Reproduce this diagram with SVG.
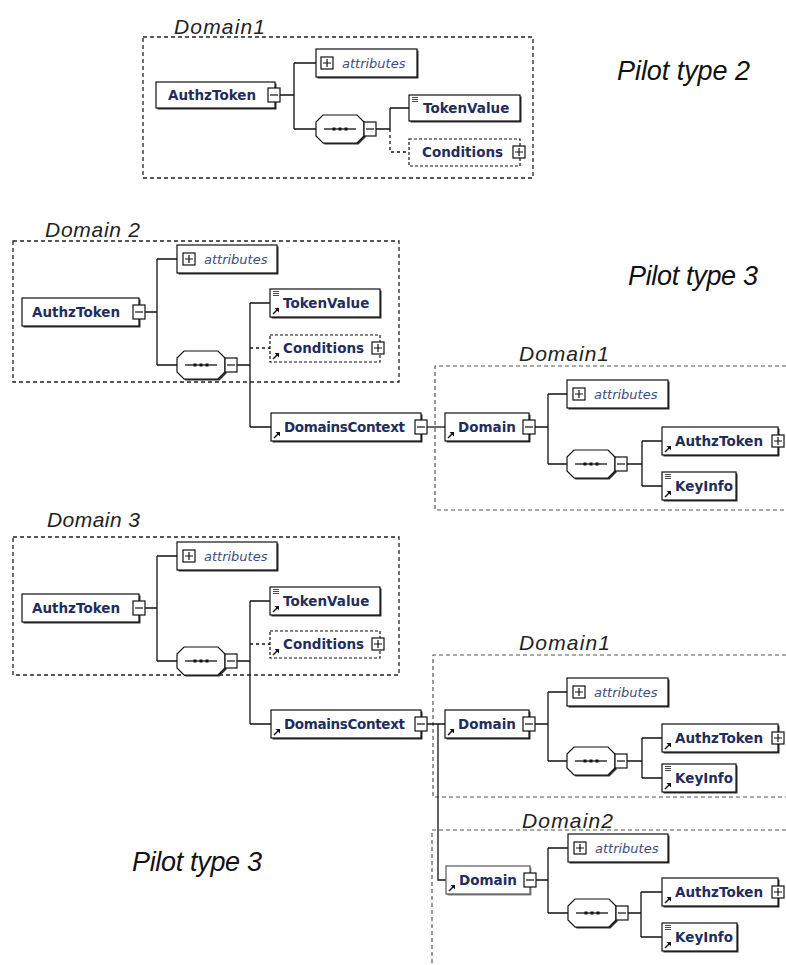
<svg xmlns="http://www.w3.org/2000/svg" width="786" height="965" viewBox="0 0 786 965">
<style>
.bg{fill:#fff}
.dom{fill:none;stroke:#222;stroke-width:1.3;stroke-dasharray:4 3}
.dom2{fill:none;stroke:#555;stroke-width:1.2;stroke-dasharray:4 3}
.nd{fill:#fff;stroke:#111;stroke-width:1.2}
.ndd{fill:#fff;stroke:#111;stroke-width:1.2;stroke-dasharray:3 2}
.sh{fill:#333}
.c{fill:none;stroke:#111;stroke-width:1.3}
.cd{fill:none;stroke:#111;stroke-width:1.3;stroke-dasharray:3 3}
.t{font-family:"DejaVu Sans",Verdana,sans-serif;font-weight:bold;font-size:13.5px;fill:#1f2d5c}
.at{font-family:"DejaVu Sans",Verdana,sans-serif;font-style:italic;font-size:13px;fill:#3b4b7a}
.dl{font-family:"Liberation Sans",Arial,sans-serif;font-style:italic;font-size:21px;fill:#222}
.pt{font-family:"Liberation Sans",Arial,sans-serif;font-style:italic;font-size:27px;fill:#111}
</style>
<defs>
<g id="mn"><rect x="-6" y="-7" width="12" height="14" fill="#fff" stroke="#111" stroke-width="1.2"/><line x1="-4" y1="0" x2="4" y2="0" stroke="#111" stroke-width="1.2"/></g>
<g id="pl"><rect x="-6" y="-6" width="12" height="12" fill="#fff" stroke="#111" stroke-width="1.2"/><path d="M-4 0H4M0 -4V4" stroke="#111" stroke-width="1.2"/></g>
<g id="ref"><path d="M0 0L4 -4" stroke="#111" stroke-width="1.4"/><path d="M1.5 -6H6V-1.5Z" fill="#111"/></g>
<g id="eq"><path d="M0 0.5H6M0 2.5H6M0 4.5H6" stroke="#333" stroke-width="0.9"/></g>
<g id="seq">
<path d="M8.5 -12.5H42.5L49.5 -5.5V8.5L42.5 15.5H8.5L1.5 8.5V-5.5Z" fill="#333"/>
<path d="M7 -14H41L48 -7V7L41 14H7L0 7V-7Z" fill="#fff" stroke="#111" stroke-width="1.2"/>
<line x1="8" y1="0" x2="40" y2="0" stroke="#111" stroke-width="1.3"/>
<rect x="16.5" y="-1.5" width="3" height="3" fill="#111"/><rect x="22.5" y="-1.5" width="3" height="3" fill="#111"/><rect x="28.5" y="-1.5" width="3" height="3" fill="#111"/>
</g>
</defs>
<rect class="bg" x="0" y="0" width="786" height="965"/>

<g id="domains">
<rect class="dom" x="143" y="37" width="390" height="141"/>
<rect class="dom" x="13" y="241" width="386" height="141"/>
<path class="dom2" d="M786 366H435V510H786"/>
<rect class="dom" x="13" y="537" width="386" height="138"/>
<path class="dom2" d="M786 655H433V797H786"/>
<path class="dom2" d="M786 830H432V965"/>
</g>

<g id="labels">
<text class="dl" x="174" y="34" textLength="91">Domain1</text>
<text class="pt" x="617" y="80" textLength="133">Pilot type 2</text>
<text class="dl" x="45" y="237" textLength="95">Domain 2</text>
<text class="pt" x="628" y="285" textLength="130">Pilot type 3</text>
<text class="dl" x="519" y="361" textLength="90">Domain1</text>
<text class="dl" x="47" y="527" textLength="93">Domain 3</text>
<text class="dl" x="519" y="650" textLength="91">Domain1</text>
<text class="dl" x="522" y="828" textLength="91">Domain2</text>
<text class="pt" x="132" y="871" textLength="130">Pilot type 3</text>
</g>

<g id="connectors">
<path class="c" d="M280 95H294M294 63V129M294 63H316M294 129H316"/>
<path class="c" d="M376 129H390M390 108V129M390 108H409"/>
<path class="cd" d="M390 129V152H409"/>

<path class="c" d="M145 312H157M157 259V365M157 259H177M157 365H177"/>
<path class="c" d="M237 365H250M250 303V427M250 303H270M250 427H271"/>
<path class="cd" d="M250 348H270"/>
<path class="c" d="M427 427H445"/>
<path class="c" d="M535 427H548M548 394V464M548 394H567M548 464H567"/>
<path class="c" d="M627 464H642M642 441V486M642 441H662M642 486H662"/>

<path class="c" d="M145 608H157M157 556V661M157 556H177M157 661H177"/>
<path class="c" d="M237 661H250M250 601V724M250 601H270M250 724H271"/>
<path class="cd" d="M250 644H270"/>
<path class="c" d="M427 724H445M438 724V880H446"/>
<path class="c" d="M535 724H548M548 692V761M548 692H567M548 761H567"/>
<path class="c" d="M627 761H642M642 738V778M642 738H662M642 778H662"/>
<path class="c" d="M536 880H548M548 848V913M548 848H568M548 913H568"/>
<path class="c" d="M628 913H641M641 892V937M641 892H662M641 937H662"/>
</g>

<!-- Section 1 -->
<g id="s1-authztoken"><rect class="sh" x="157.5" y="83.5" width="119" height="26"/><rect class="nd" x="156" y="82" width="119" height="26"/><text class="t" x="168" y="100">AuthzToken</text><use href="#mn" x="274" y="95"/></g>
<g id="s1-attributes"><rect class="sh" x="317.5" y="50.5" width="101" height="28"/><rect class="nd" x="316" y="49" width="101" height="28"/><use href="#pl" x="327" y="63"/><text class="at" x="342" y="68">attributes</text></g>
<g id="s1-sequence"><use href="#seq" x="316" y="129"/><use href="#mn" x="370" y="129"/></g>
<g id="s1-tokenvalue"><rect class="sh" x="410.5" y="96.5" width="111" height="26"/><rect class="nd" x="409" y="95" width="111" height="26"/><use href="#eq" x="412" y="97"/><text class="t" x="423" y="113">TokenValue</text></g>
<g id="s1-conditions"><rect class="ndd" x="409" y="139" width="111" height="27"/><text class="t" x="422" y="157">Conditions</text><use href="#pl" x="519" y="152"/></g>

<!-- Section 2 -->
<g id="s2-authztoken"><rect class="sh" x="23.5" y="299.5" width="117" height="28"/><rect class="nd" x="22" y="298" width="117" height="28"/><text class="t" x="32" y="317">AuthzToken</text><use href="#mn" x="139" y="312"/></g>
<g id="s2-attributes"><rect class="sh" x="178.5" y="246.5" width="100" height="28"/><rect class="nd" x="177" y="245" width="100" height="28"/><use href="#pl" x="189" y="259"/><text class="at" x="204" y="264">attributes</text></g>
<g id="s2-sequence"><use href="#seq" x="177" y="365"/><use href="#mn" x="231" y="365"/></g>
<g id="s2-tokenvalue"><rect class="sh" x="271.5" y="290.5" width="110" height="28"/><rect class="nd" x="270" y="289" width="110" height="28"/><use href="#eq" x="273" y="291"/><use href="#ref" x="273" y="314"/><text class="t" x="283" y="308">TokenValue</text></g>
<g id="s2-conditions"><rect class="ndd" x="270" y="335" width="110" height="27"/><use href="#ref" x="273" y="359"/><text class="t" x="283" y="353">Conditions</text><use href="#pl" x="378" y="348"/></g>
<g id="s2-domainscontext"><rect class="sh" x="272.5" y="414.5" width="150" height="28"/><rect class="nd" x="271" y="413" width="150" height="28"/><use href="#ref" x="274" y="438"/><text class="t" x="284" y="432" textLength="121">DomainsContext</text><use href="#mn" x="421" y="427"/></g>
<g id="s2-domain"><rect class="sh" x="446.5" y="414.5" width="84" height="28"/><rect class="nd" x="445" y="413" width="84" height="28"/><use href="#ref" x="448" y="438"/><text class="t" x="458" y="432">Domain</text><use href="#mn" x="529" y="427"/></g>
<g id="s2-d-attributes"><rect class="sh" x="568.5" y="381.5" width="101" height="28"/><rect class="nd" x="567" y="380" width="101" height="28"/><use href="#pl" x="579" y="394"/><text class="at" x="594" y="399">attributes</text></g>
<g id="s2-d-sequence"><use href="#seq" x="567" y="464"/><use href="#mn" x="621" y="464"/></g>
<g id="s2-d-authztoken"><rect class="sh" x="663.5" y="428.5" width="116" height="28"/><rect class="nd" x="662" y="427" width="116" height="28"/><use href="#ref" x="665" y="452"/><text class="t" x="675" y="446">AuthzToken</text><use href="#pl" x="778" y="441"/></g>
<g id="s2-d-keyinfo"><rect class="sh" x="663.5" y="473.5" width="74" height="28"/><rect class="nd" x="662" y="472" width="74" height="28"/><use href="#eq" x="665" y="474"/><use href="#ref" x="665" y="497"/><text class="t" x="675" y="491">KeyInfo</text></g>

<!-- Section 3 -->
<g id="s3-authztoken"><rect class="sh" x="23.5" y="595.5" width="117" height="28"/><rect class="nd" x="22" y="594" width="117" height="28"/><text class="t" x="32" y="613">AuthzToken</text><use href="#mn" x="139" y="608"/></g>
<g id="s3-attributes"><rect class="sh" x="178.5" y="543.5" width="100" height="28"/><rect class="nd" x="177" y="542" width="100" height="28"/><use href="#pl" x="189" y="556"/><text class="at" x="204" y="561">attributes</text></g>
<g id="s3-sequence"><use href="#seq" x="177" y="661"/><use href="#mn" x="231" y="661"/></g>
<g id="s3-tokenvalue"><rect class="sh" x="271.5" y="588.5" width="110" height="28"/><rect class="nd" x="270" y="587" width="110" height="28"/><use href="#eq" x="273" y="589"/><use href="#ref" x="273" y="612"/><text class="t" x="283" y="606">TokenValue</text></g>
<g id="s3-conditions"><rect class="ndd" x="270" y="631" width="110" height="27"/><use href="#ref" x="273" y="655"/><text class="t" x="283" y="649">Conditions</text><use href="#pl" x="378" y="644"/></g>
<g id="s3-domainscontext"><rect class="sh" x="272.5" y="711.5" width="150" height="28"/><rect class="nd" x="271" y="710" width="150" height="28"/><use href="#ref" x="274" y="735"/><text class="t" x="284" y="729" textLength="121">DomainsContext</text><use href="#mn" x="421" y="724"/></g>
<g id="s3-domain1"><rect class="sh" x="446.5" y="711.5" width="84" height="28"/><rect class="nd" x="445" y="710" width="84" height="28"/><use href="#ref" x="448" y="735"/><text class="t" x="458" y="729">Domain</text><use href="#mn" x="529" y="724"/></g>
<g id="s3-d1-attributes"><rect class="sh" x="568.5" y="679.5" width="101" height="28"/><rect class="nd" x="567" y="678" width="101" height="28"/><use href="#pl" x="579" y="692"/><text class="at" x="594" y="697">attributes</text></g>
<g id="s3-d1-sequence"><use href="#seq" x="567" y="761"/><use href="#mn" x="621" y="761"/></g>
<g id="s3-d1-authztoken"><rect class="sh" x="663.5" y="725.5" width="116" height="28"/><rect class="nd" x="662" y="724" width="116" height="28"/><use href="#ref" x="665" y="749"/><text class="t" x="675" y="743">AuthzToken</text><use href="#pl" x="778" y="738"/></g>
<g id="s3-d1-keyinfo"><rect class="sh" x="663.5" y="765.5" width="74" height="28"/><rect class="nd" x="662" y="764" width="74" height="28"/><use href="#eq" x="665" y="766"/><use href="#ref" x="665" y="789"/><text class="t" x="675" y="783">KeyInfo</text></g>
<g id="s3-domain2"><rect class="sh" x="447.5" y="867.5" width="84" height="28" style="fill:#888"/><rect class="nd" x="446" y="866" width="84" height="28" style="stroke:#555"/><use href="#ref" x="449" y="891"/><text class="t" x="459" y="885">Domain</text><use href="#mn" x="530" y="880"/></g>
<g id="s3-d2-attributes"><rect class="sh" x="569.5" y="835.5" width="100" height="28"/><rect class="nd" x="568" y="834" width="100" height="28"/><use href="#pl" x="580" y="848"/><text class="at" x="595" y="853">attributes</text></g>
<g id="s3-d2-sequence"><use href="#seq" x="568" y="913"/><use href="#mn" x="622" y="913"/></g>
<g id="s3-d2-authztoken"><rect class="sh" x="663.5" y="879.5" width="116" height="28"/><rect class="nd" x="662" y="878" width="116" height="28"/><use href="#ref" x="665" y="903"/><text class="t" x="675" y="897">AuthzToken</text><use href="#pl" x="778" y="892"/></g>
<g id="s3-d2-keyinfo"><rect class="sh" x="663.5" y="924.5" width="75" height="28"/><rect class="nd" x="662" y="923" width="75" height="28"/><use href="#eq" x="665" y="925"/><use href="#ref" x="665" y="948"/><text class="t" x="675" y="942">KeyInfo</text></g>
</svg>
